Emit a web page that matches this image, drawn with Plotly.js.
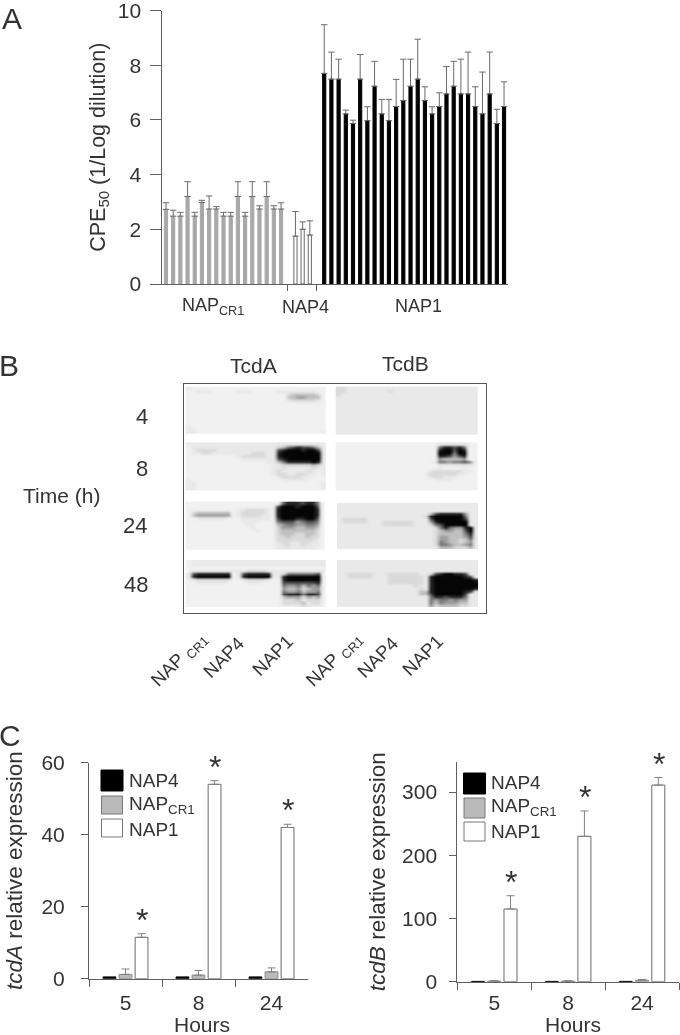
<!DOCTYPE html>
<html>
<head>
<meta charset="utf-8">
<script src="https://cdn.plot.ly/plotly-3.0.1.min.js"></script>
<style>
html,body{margin:0;padding:0;background:#fff;overflow:hidden}
#plot{width:680px;height:1035px;filter:blur(0.45px)}
</style>
</head>
<body>
<div id="plot"></div>
<script>
// ---------- Panel A data: CPE50 per isolate ----------
const crValues = [2.73,2.48,2.48,3.2,2.48,2.98,2.74,2.74,2.48,2.48,3.2,2.48,3.2,2.74,3.2,2.74,2.74];
const crErrTops = [2.97,2.7,2.62,3.74,2.62,3.06,3.22,2.83,2.62,2.62,3.74,2.62,3.74,2.86,3.74,2.86,2.97];
const nap4Values = [1.75,2.0,1.79];
const nap4ErrTops = [2.65,2.27,2.31];
const nap1Values = [7.7,7.49,7.49,6.22,5.87,7.49,5.97,7.23,6.22,5.97,6.49,6.71,7.23,7.49,6.71,6.22,6.49,6.95,7.23,6.95,6.95,6.49,6.22,6.95,5.87,6.49];
const nap1ErrTops = [9.48,8.48,8.22,6.36,5.99,8.39,6.48,8.14,6.75,6.75,7.48,8.22,8.22,8.95,7.21,6.48,6.99,7.95,8.14,8.22,8.48,7.21,7.75,8.48,6.39,7.39];

// ---------- Panel C data ----------
const hours = ["5","8","24"];
const tcdA_nap4 = [0.5,0.5,0.5];
const tcdA_cr1 = [1.2,1.0,1.9];
const tcdA_cr1Err = [1.5,1.3,1.1];
const tcdA_nap1 = [11.5,54,42];
const tcdA_nap1Err = [1.0,1.0,0.9];
const tcdB_nap4 = [0.5,0.5,0.5];
const tcdB_cr1 = [1,1,2.5];
const tcdB_cr1Err = [0.5,0.5,0.8];
const tcdB_nap1 = [115,230,311];
const tcdB_nap1Err = [21,40,12];

// ---------- Panel B data: blot band intensity, 0 (blank) to 9 (saturated) ----------
const blotA4 = [
"2111111 1111111 1111111 1111111","1122211 1112221 1111222 2222211","1111111 1111111 1111113 4444431","1111111 1111111 1111114 4554441",
"1111111 1111111 1111112 3333321","1111111 1111111 1111111 1111111","1111111 1111111 1111111 1111111","1111111 1111111 1111111 1111111",
"1111111 1111111 1111111 1111111","1111111 1111111 1111111 1111111","1111111 1111111 1111111 1111111","1111111 1111111 1111111 1111111",
"1111111 1111111 1111111 1111111","2111111 1111111 1111111 1111111","2211111 1111111 1111111 1111111","2211111 1111111 1111111 1111112"];
const blotA8 = [
"2222222 2222222 2222222 2222222","1222222 2222222 2222346 7877642","1233332 2222222 2222789 9989972","1223322 2222223 3322899 9999992",
"1111111 1112333 3322899 9999992","1111111 1111222 2222789 9999992","1111111 1111111 1122468 8888982","1111111 1111111 1112233 3333432",
"1111111 1111111 1112232 2222322","1111111 1111111 1112322 2223212","1111111 1111111 1112332 2332212","1111111 1111111 1111233 3322111",
"2111111 1111111 1111122 2221111","2211111 1111111 1111111 1111112","2211111 1111111 1111111 1111112","2211111 1111111 1111111 1111112"];
const blotA24 = [
"1111111 1111111 1111168 8878861","1111111 1111111 1111799 9899971","1111111 1112233 3321899 9999981","1344444 4412333 3321899 9999981",
"1455555 5512333 3221899 9999981","1122222 2111222 2221799 9889971","1111111 1111222 2111677 7567761","1111111 1111122 1111456 6556651",
"1111111 1111112 1111355 5445541","1111111 1111111 2111344 4444431","1111111 1111111 1111344 4334431","1111111 1111111 1111334 3334331",
"1111111 1111111 1111333 3333321","1111111 1111111 1111233 2233221","1111111 1111111 1111223 2232221","1111111 1111111 1111222 2222211"];
const blotA48 = [
"1222222 2222222 2222222 2222222","1222222 2222222 2222222 2222222","1111111 1111111 1111111 1111111","1222222 2222233 3322222 2222222",
"2788888 8812788 8882236 6666671","2899999 9912899 9992289 9999991","1233333 3311233 3321189 9999991","1122222 2111122 2111177 7777781",
"1111111 1111111 1111165 5646561","1111111 1111111 1111154 4534551","1111111 1111111 1111165 5645561","1111111 1111111 1111178 8868871",
"1111111 1111111 1111145 5535451","1111111 1111111 1111133 3423331","1111111 1111111 1111133 3342331","1111111 1111111 1111122 2232221"];
const blotB4 = [
"3322222 2222222 2222222 2222222","3322222 2223222 2222222 2222222","3222222 2222222 2222222 2222222","2222222 2222222 2222222 2222222",
"2222222 2222222 2222222 2222222","2222222 2222222 2222222 2222222","2222222 2222222 2222222 2222222","2222222 2222222 2222222 2222222",
"2222222 2222222 2222222 2222222","2222222 2222222 2222222 2222222","2222222 2222222 2222222 2222222","2222222 2222222 2222222 2222222",
"2222222 2222222 2222222 2222222","2222222 2222222 2222222 2222222","2222222 2222222 2222222 2222222","2222222 2222222 2222222 2222222"];
const blotB8 = [
"1111111 1111111 1111112 2222211","1111111 1111111 1111116 8878611","1111111 1111111 1111118 9979811","1111111 1111111 1111119 9969911",
"1111111 1111111 1111118 8757811","1111111 1111111 1111115 4444511","1111111 1111111 1111126 6566761","1111111 1111111 1111112 2222221",
"1111111 1111111 1111112 1111211","1111111 1111111 1111233 3333221","1111111 1111111 1111333 3332211","1111111 1111111 1111233 2221111",
"1111111 1111111 1111112 2211111","1111111 1111111 1111111 1111111","1111111 1111111 1111111 1111111","1111111 1111111 1111111 1111111"];
const blotB24 = [
"2222222 2222222 2222222 2222222","2222222 2222222 2222222 2222222","2222222 2222222 2222222 2222222","2222222 2222222 2222478 8888522",
"2222222 2222222 2223899 9999622","2333332 2222222 2222799 9999722","2333332 2233333 3222589 9999922","2222222 2233333 3222367 9999922",
"2222222 2222222 2222236 8655892","2222222 2222222 2222234 5544792","2222222 2222222 2222234 4444682","2222222 2222222 2222235 5444572",
"2222222 2222222 2222235 5443462","2222222 2222222 2222236 5443452","2222222 2222222 2222236 6544562","2222222 2222222 2222224 4433342"];
const blotB48 = [
"2222222 2222222 2222222 2222222","2222222 2222222 2222222 2222222","2222222 2222222 2222222 2222222","2222222 2222222 2222222 2222222",
"2233333 2223333 3322378 9988722","2233333 2223333 3332899 9999872","2222222 2223333 3332899 9999998","2222222 2223333 3332899 9999999",
"2222222 2222222 2322899 9999999","2222222 2222222 2232899 9999998","2222222 2222222 2244899 9999872","2222222 2222222 2244799 9999722",
"2222222 2222222 2222688 7888622","2222222 2222222 2222656 6565522","2222222 2222222 2222646 5554422","2222222 2222222 2222534 4443322"];
const blotGreys = ["#ffffff","#f1f1f1","#e9e9e9","#dadada","#c0c0c0","#9f9f9f","#7a7a7a","#505050","#262626","#050505"];

// ---------- Helpers ----------
const W = 680, H = 1035;
const xDom = (a,b) => [a/W, b/W];
const yDom = (top,bottom) => [1-bottom/H, 1-top/H];
const ink = "#333333", axisInk = "#5f5f5f";
const FONT = "'Liberation Sans', Arial, sans-serif";
const diff = (tops, vals) => tops.map((t,i) => +(t-vals[i]).toFixed(2));
const idx = (start, n) => Array.from({length:n}, (_,i) => start+i);
const parseBlot = rows => rows.map(r => r.replace(/ /g,'').split('').map(Number));

// ---------- Traces ----------
function barA(name, vals, tops, start, color, line){
  return {type:'bar', name, x:idx(start, vals.length), y:vals, xaxis:'x', yaxis:'y',
    width:0.44, offset:-0.22,
    marker:{color, line:{color:line, width:1}},
    error_y:{type:'data', symmetric:false, array:diff(tops,vals), arrayminus:vals.map(()=>0), color:'#6a6a6a', thickness:1, width:3.2}};
}
function barC(name, vals, errs, color, line, xa, ya, group){
  const t = {type:'bar', name, x:hours, y:vals, xaxis:xa, yaxis:ya, offsetgroup:group,
    marker:{color, line:{color:line, width:1}}};
  if(errs) t.error_y = {type:'data', symmetric:false, array:errs, arrayminus:errs.map(()=>0), color:'#808080', thickness:1, width:4};
  return t;
}
const blotScale = blotGreys.map((c,i) => [i/9, c]);
function blot(name, rows, left, right, top, bottom){
  const z = parseBlot(rows);
  const nx = z[0].length, ny = z.length;
  const dx = (right-left)/nx, dy = (bottom-top)/ny;
  return {type:'heatmap', name, z, x0:left+dx/2, dx, y0:top+dy/2, dy, xaxis:'x4', yaxis:'y4',
    zmin:0, zmax:9, zsmooth:'best', colorscale:blotScale, showscale:false, hoverinfo:'skip'};
}
const L0=185.7, L1=325.7, R0=335.7, R1=477.3;
const data = [
  barA('NAP CR1', crValues, crErrTops, 0, '#a8a8a8', '#a8a8a8'),
  barA('NAP4', nap4Values, nap4ErrTops, 18, '#ffffff', '#6a6a6a'),
  barA('NAP1', nap1Values, nap1ErrTops, 22, '#000000', '#000000'),
  blot('TcdA 4 h', blotA4, L0, L1, 386.7, 434),
  blot('TcdA 8 h', blotA8, L0, L1, 442.3, 490.7),
  blot('TcdA 24 h', blotA24, L0, 324.5, 501.7, 550),
  blot('TcdA 48 h', blotA48, L0, L1, 560, 607.3),
  blot('TcdB 4 h', blotB4, R0, R1, 386.7, 435),
  blot('TcdB 8 h', blotB8, R0, R1, 442.3, 490.7),
  blot('TcdB 24 h', blotB24, 337, 478, 503, 549),
  blot('TcdB 48 h', blotB48, 337, 478, 560, 607.3),
  barC('NAP4', tcdA_nap4, null, '#000000', '#000000', 'x2','y2','a'),
  barC('NAP CR1', tcdA_cr1, tcdA_cr1Err, '#bababa', '#8a8a8a', 'x2','y2','b'),
  barC('NAP1', tcdA_nap1, tcdA_nap1Err, '#ffffff', '#6a6a6a', 'x2','y2','c'),
  barC('NAP4', tcdB_nap4, null, '#000000', '#000000', 'x3','y3','a'),
  barC('NAP CR1', tcdB_cr1, tcdB_cr1Err, '#bababa', '#8a8a8a', 'x3','y3','b'),
  barC('NAP1', tcdB_nap1, tcdB_nap1Err, '#ffffff', '#6a6a6a', 'x3','y3','c')
];

// ---------- Annotations ----------
function label(text, x, y, size, extra){
  return Object.assign({text, xref:'paper', yref:'paper', x:x/W, y:1-y/H, xanchor:'center', yanchor:'middle',
    showarrow:false, font:{family:FONT, size, color:ink}}, extra||{});
}
function star(xa, ya, cat, val, shift){
  return {text:'*', xref:xa, yref:ya, x:cat, y:val, xanchor:'center', yanchor:'bottom', xshift:shift, yshift:-6,
    showarrow:false, font:{family:FONT, size:32, color:ink}};
}
const napCR = 'NAP<sub>CR1</sub>';
const annotations = [
  label('A', 12, 18, 30), label('B', 9, 365, 30), label('C', 10, 735, 30),
  label(napCR, 213, 307, 18), label('NAP4', 305, 307, 18), label('NAP1', 418, 306, 18),
  label('TcdA', 253, 365, 21), label('TcdB', 405, 363, 21), label('Time (h)', 61, 495, 21),
  label('4', 142, 416, 22), label('8', 142, 468, 22), label('24', 135, 525, 22), label('48', 136, 584, 22),
  label('NAP <sub>CR1</sub>', 179, 660, 18.5, {textangle:-45}), label('NAP4', 223, 657, 18.5, {textangle:-45}), label('NAP1', 272, 655, 18.5, {textangle:-45}),
  label('NAP <sub>CR1</sub>', 334, 660, 18.5, {textangle:-45}), label('NAP4', 377, 657, 18.5, {textangle:-45}), label('NAP1', 422, 655, 18.5, {textangle:-45}),
  label('NAP4', 127, 780, 19, {xanchor:'left'}), label(napCR, 127, 805, 19, {xanchor:'left'}), label('NAP1', 127, 829, 19, {xanchor:'left'}),
  label('NAP4', 489, 782, 19, {xanchor:'left'}), label(napCR, 489, 807, 19, {xanchor:'left'}), label('NAP1', 489, 831, 19, {xanchor:'left'}),
  label('Hours', 202, 1024, 21), label('Hours', 573, 1024, 21)
];
hours.forEach((h,i) => {
  annotations.push(star('x2','y2',i,tcdA_nap1[i]+tcdA_nap1Err[i],16));
  annotations.push(star('x3','y3',i,tcdB_nap1[i]+tcdB_nap1Err[i],17));
});

// ---------- Legend keys (drawn as in the figure: large swatches) ----------
function key(x0,x1,y0,y1,fill,line){
  return {type:'rect', xref:'paper', yref:'paper', x0:x0/W, x1:x1/W, y0:1-y0/H, y1:1-y1/H, fillcolor:fill, line:{color:line, width:1}};
}
const shapes = [
  key(101,123,770,791,'#000000','#000000'), key(101.5,122.5,796,814,'#bababa','#777777'), key(101.5,122.5,819,837,'#ffffff','#777777'),
  key(463.5,485.5,773,794,'#000000','#000000'), key(464,485,798,818,'#bababa','#777777'), key(464,485,822,841,'#ffffff','#777777')
];

// ---------- Axes ----------
const axisBase = {showgrid:false, zeroline:false, showline:true, linecolor:axisInk, linewidth:1, ticks:'outside', tickcolor:axisInk, tickwidth:1,
  ticklabeloverflow:'allow', tickfont:{family:FONT, size:21, color:ink}};
const layout = {
  width:W, height:H, margin:{l:0,r:0,t:0,b:0}, paper_bgcolor:'#ffffff', plot_bgcolor:'rgba(0,0,0,0)',
  showlegend:false, barmode:'group', bargap:0.34, bargroupgap:0.2,
  annotations, shapes,
  xaxis:Object.assign({}, axisBase, {domain:xDom(162.3,508), range:[-0.51,47.55], tickmode:'array', tickvals:[16.94,20.97], ticklen:6, showticklabels:false}),
  yaxis:Object.assign({}, axisBase, {domain:yDom(10.5,284), range:[0,10], tickvals:[0,2,4,6,8,10], ticklen:11, ticklabelstandoff:5,
    title:{text:'CPE<sub>50</sub> (1/Log dilution)', font:{family:FONT,size:21.5,color:ink}, standoff:6}}),
  xaxis2:Object.assign({}, axisBase, {domain:xDom(89,308), type:'category', categoryorder:'array', categoryarray:hours, range:[-0.5,2.5], tickson:'boundaries', ticklen:7, ticklabelstandoff:5, anchor:'y2'}),
  yaxis2:Object.assign({}, axisBase, {domain:yDom(762.7,978.7), range:[0,60], tickvals:[0,20,40,60], ticklen:7, ticklabelstandoff:12, anchor:'x2',
    title:{text:'<i>tcdA</i> relative expression', font:{family:FONT,size:22.5,color:ink}, standoff:12}}),
  xaxis3:Object.assign({}, axisBase, {domain:xDom(457.3,679), type:'category', categoryorder:'array', categoryarray:hours, range:[-0.5,2.5], tickson:'boundaries', ticklen:7, ticklabelstandoff:2, anchor:'y3'}),
  yaxis3:Object.assign({}, axisBase, {domain:yDom(761.7,981.7), range:[0,348], tickvals:[0,100,200,300], ticklen:7, ticklabelstandoff:8, anchor:'x3',
    title:{text:'<i>tcdB</i> relative expression', font:{family:FONT,size:22.5,color:ink}, standoff:10}}),
  xaxis4:{domain:xDom(184,485.7), range:[184,485.7], anchor:'y4', showgrid:false, zeroline:false, showticklabels:false, ticks:'', showline:true, mirror:true, linecolor:'#555555', linewidth:1},
  yaxis4:{domain:yDom(384,612.7), range:[612.7,384], anchor:'x4', showgrid:false, zeroline:false, showticklabels:false, ticks:'', showline:true, mirror:true, linecolor:'#555555', linewidth:1}
};

Plotly.newPlot('plot', data, layout, {displayModeBar:false, staticPlot:true});
</script>
</body>
</html>
